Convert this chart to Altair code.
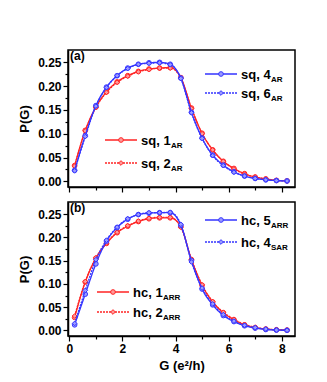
import altair as alt
import pandas as pd

G = [0.2, 0.6, 1.0, 1.4, 1.8, 2.2, 2.6, 3.0, 3.4, 3.8, 4.2, 4.6, 5.0, 5.4, 5.8, 6.2, 6.6, 7.0, 7.4, 7.8, 8.2]

sq_1AR = [0.033, 0.107, 0.156, 0.188, 0.209, 0.222, 0.231, 0.236, 0.238, 0.239, 0.218, 0.154, 0.101, 0.066, 0.042, 0.027, 0.016, 0.009, 0.005, 0.002, 0.001]
sq_2AR = [0.032, 0.106, 0.155, 0.187, 0.208, 0.221, 0.230, 0.235, 0.238, 0.238, 0.217, 0.153, 0.100, 0.066, 0.042, 0.026, 0.015, 0.009, 0.005, 0.002, 0.001]
sq_4AR = [0.023, 0.096, 0.159, 0.198, 0.222, 0.238, 0.246, 0.249, 0.250, 0.246, 0.217, 0.145, 0.091, 0.055, 0.034, 0.020, 0.011, 0.006, 0.003, 0.0015, 0.0007]
sq_6AR = [0.022, 0.094, 0.158, 0.197, 0.222, 0.237, 0.246, 0.248, 0.249, 0.245, 0.216, 0.144, 0.090, 0.054, 0.033, 0.019, 0.011, 0.006, 0.003, 0.0015, 0.0007]

hc_1ARR = [0.028, 0.104, 0.155, 0.187, 0.210, 0.224, 0.234, 0.240, 0.242, 0.242, 0.223, 0.152, 0.097, 0.061, 0.038, 0.023, 0.012, 0.006, 0.003, 0.0014, 0.0007]
hc_2ARR = [0.031, 0.105, 0.156, 0.188, 0.211, 0.225, 0.235, 0.241, 0.243, 0.243, 0.222, 0.153, 0.098, 0.062, 0.039, 0.024, 0.013, 0.007, 0.003, 0.0015, 0.0007]
hc_5ARR = [0.012, 0.078, 0.143, 0.192, 0.221, 0.239, 0.249, 0.252, 0.253, 0.253, 0.226, 0.150, 0.089, 0.055, 0.032, 0.019, 0.010, 0.005, 0.002, 0.0007, 0.0003]
hc_4SAR = [0.015, 0.086, 0.152, 0.194, 0.222, 0.240, 0.249, 0.253, 0.253, 0.254, 0.228, 0.147, 0.091, 0.057, 0.034, 0.020, 0.011, 0.006, 0.003, 0.0008, 0.0003]

RED = "#ff2424"
BLUE = "#3535ff"
RED_L = "#ff9a9a"
BLUE_L = "#9a9aff"
FONT = "Liberation Sans"

panels = [
    {
        "label": "(a)",
        "height": 137,
        "series": [("sq, 1", "AR", sq_1AR, RED, RED_L, "solid"),
                   ("sq, 2", "AR", sq_2AR, RED, RED_L, "dot"),
                   ("sq, 4", "AR", sq_4AR, BLUE, BLUE_L, "solid"),
                   ("sq, 6", "AR", sq_6AR, BLUE, BLUE_L, "dot")],
        "legend": [(37, 90), (37, 113), (137, 24), (137, 43)],
        "xlabels": False,
    },
    {
        "label": "(b)",
        "height": 134,
        "series": [("hc, 1", "ARR", hc_1ARR, RED, RED_L, "solid"),
                   ("hc, 2", "ARR", hc_2ARR, RED, RED_L, "dot"),
                   ("hc, 5", "ARR", hc_5ARR, BLUE, BLUE_L, "solid"),
                   ("hc, 4", "SAR", hc_4SAR, BLUE, BLUE_L, "dot")],
        "legend": [(29, 90), (29, 110), (137, 18), (137, 40)],
        "xlabels": True,
    },
]

yvals = [round(i * 0.025, 3) for i in range(11)]
xvals = list(range(0, 9))
YMAJ = "abs(datum.value*20 - round(datum.value*20)) < 0.01"


def make_panel(p):
    xs = alt.Scale(domain=[-0.05, 8.5], nice=False, zero=False)
    ys = alt.Scale(domain=[-0.012, 0.276], nice=False, zero=False)
    common = dict(
        grid=False,
        labelFont=FONT, labelFontSize=12, labelFontWeight="bold", labelColor="black",
        titleFont=FONT, titleFontSize=13, titleFontWeight="bold", titleColor="black",
        domainColor="black", tickColor="black", tickWidth=1.2, domainWidth=1.5,
        labelPadding=2, labelOverlap=False, labelFlush=False, labelBound=False,
    )
    if p["xlabels"]:
        xaxis = alt.Axis(
            values=xvals,
            labelExpr="datum.value % 2 == 0 ? datum.label : ''",
            tickSize={"condition": {"test": "datum.value % 2 == 0", "value": 5}, "value": 3},
            title="G (e²/h)", titlePadding=5, **common,
        )
    else:
        xaxis = alt.Axis(
            values=xvals, labels=False,
            tickSize={"condition": {"test": "datum.value % 2 == 0", "value": 5}, "value": 3},
            title=None, **common,
        )
    yaxis = alt.Axis(
        values=yvals,
        labelExpr=YMAJ + " ? format(datum.value, '.2f') : ''",
        tickSize={"condition": {"test": YMAJ, "value": 5}, "value": 3},
        title="P(G)", titlePadding=6, **common,
    )
    X = alt.X("G:Q", scale=xs, axis=xaxis)
    Y = alt.Y("P:Q", scale=ys, axis=yaxis)
    layers = []
    for name, sub, vals, col, coll, style in p["series"]:
        df = pd.DataFrame({"G": G, "P": vals})
        dash = [1, 0] if style == "solid" else [2, 1]
        base = alt.Chart(df)
        line = base.mark_line(color=col, strokeWidth=1.3, strokeDash=dash, interpolate="monotone").encode(x=X, y=Y)
        shape = "circle" if style == "solid" else "diamond"
        pts = base.mark_point(shape=shape, filled=True, fill=coll, stroke=col, strokeWidth=1, size=22, opacity=1).encode(x=X, y=Y)
        layers += [line, pts]
    for (name, sub, vals, col, coll, style), (lx, ly) in zip(p["series"], p["legend"]):
        dash = [1, 0] if style == "solid" else [2, 1]
        shape = "circle" if style == "solid" else "diamond"
        layers.append(alt.Chart().mark_rule(color=col, strokeWidth=1.3, strokeDash=dash).encode(
            x=alt.value(lx), x2=alt.value(lx + 32), y=alt.value(ly)))
        layers.append(alt.Chart().mark_point(shape=shape, filled=True, fill=coll, stroke=col, strokeWidth=1, size=22, opacity=1).encode(
            x=alt.value(lx + 16), y=alt.value(ly)))
        layers.append(alt.Chart().mark_text(text=name, align="left", baseline="middle", font=FONT,
                                            fontSize=13, fontWeight="bold", color="black").encode(
            x=alt.value(lx + 36), y=alt.value(ly + 1)))
        layers.append(alt.Chart().mark_text(text=sub, align="left", baseline="middle", font=FONT,
                                            fontSize=8, fontWeight="bold", color="black").encode(
            x=alt.value(lx + 36 + 30), y=alt.value(ly + 5.5)))
    layers.append(alt.Chart().mark_text(text=p["label"], align="left", baseline="top", font=FONT,
                                        fontSize=12, fontWeight="bold", color="black").encode(
        x=alt.value(2), y=alt.value(1)))
    return alt.layer(*layers).properties(width=227, height=p["height"])


chart = alt.vconcat(make_panel(panels[0]), make_panel(panels[1]), spacing=7).configure_view(
    stroke="black", strokeWidth=1.5
).configure_axis(
    labelOverlap=False
).properties(
    padding={"left": 9, "top": 41, "right": 5, "bottom": 5}, background="white"
)

chart.save("out.html", embed_options={"renderer": "svg", "actions": False})
